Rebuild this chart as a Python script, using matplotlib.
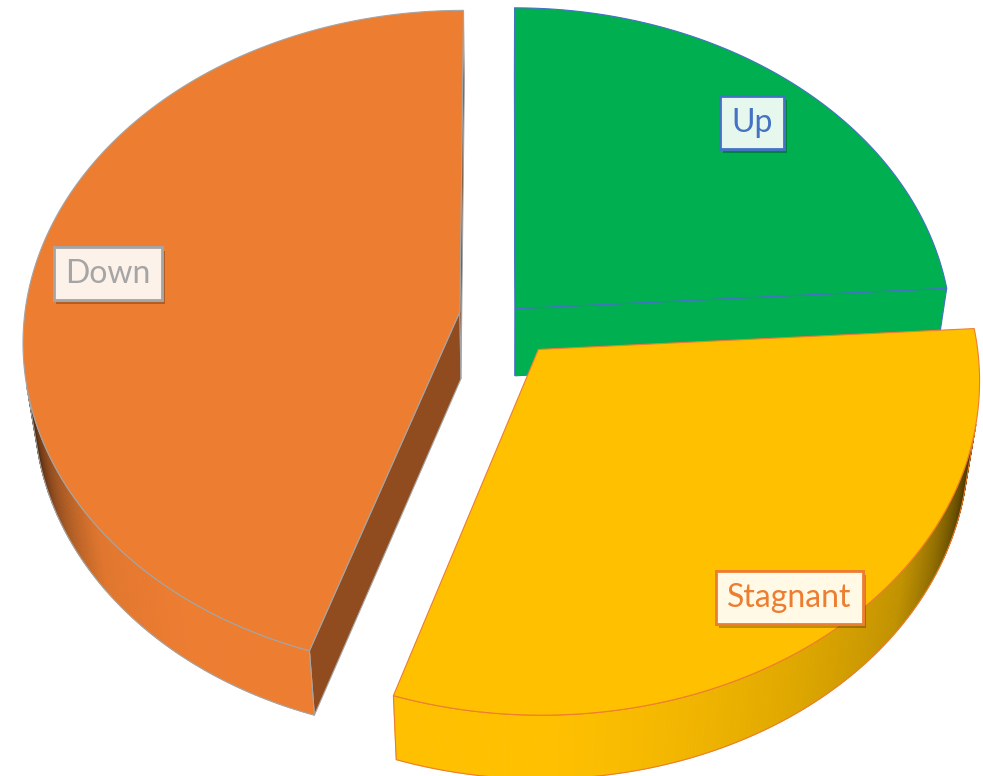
import numpy as np
import matplotlib.pyplot as plt
from matplotlib.patches import Polygon
from matplotlib.colors import to_rgb
from matplotlib import patheffects as pe

# data
labels = ["Up", "Stagnant", "Down"]
values = [24, 31, 45]
colors = ["#00B050", "#FFC000", "#ED7D31"]
edge_colors = ["#4472C4", "#ED7D31", "#A5A5A5"]
explode = [0.035, 0.124, 0.105]
label_r = [0.84, 0.87, 0.83]

# camera / 3d settings
elev = np.radians(48.9)
s, c = np.sin(elev), np.cos(elev)
D = 7.6
F = 3310
CX, CY = 505, 317
THICK = 0.24
cam = np.array([0.0, -D * c, D * s])
light = np.array([-0.29, -0.96])
light = light / np.linalg.norm(light)


def project(u, v, w):
    z = D + v * c - w * s
    return CX + F * u / z, CY - F * (v * s + w * c) / z


def facing(n, p):
    d = cam - np.array([p[0], p[1], 0.0])
    return np.dot(np.array([n[0], n[1], 0.0]), d) / np.linalg.norm(d)


def shade(col, n, vis=1.0):
    k = min(1.0, 0.6 + 0.42 * float(np.dot(n, light)))
    k *= 0.3 + 0.7 * min(1.0, vis / 0.28) ** 0.7
    return tuple(np.clip(np.array(to_rgb(col)) * k, 0, 1))


fig = plt.figure(figsize=(9.83, 7.76), dpi=100)
ax = fig.add_axes([0, 0, 1, 1])
ax.set_xlim(0, 983)
ax.set_ylim(776, 0)
ax.axis("off")

total = float(sum(values))
bounds = np.concatenate([[0], np.cumsum(values)]) / total * 2 * np.pi
slices = []
for i in range(len(values)):
    t0, t1 = bounds[i], bounds[i + 1]
    tm = 0.5 * (t0 + t1)
    off = explode[i] * np.array([np.sin(tm), np.cos(tm)])
    slices.append((i, t0, t1, tm, off))

# back to front
slices.sort(key=lambda x: -x[4][1])

for i, t0, t1, tm, off in slices:
    col = colors[i]
    ec = edge_colors[i]
    th = np.linspace(t0, t1, 240)
    ou = off[0] + np.sin(th)
    ov = off[1] + np.cos(th)

    # cut faces
    for tt, n in [(t0, np.array([-np.cos(t0), np.sin(t0)])),
                  (t1, np.array([np.cos(t1), -np.sin(t1)]))]:
        if facing(n, off) > 0:
            pu, pv = off[0] + np.sin(tt), off[1] + np.cos(tt)
            pts = [project(off[0], off[1], 0), project(pu, pv, 0),
                   project(pu, pv, -THICK), project(off[0], off[1], -THICK)]
            ax.add_patch(Polygon(pts, closed=True, facecolor=shade(col, n),
                                 edgecolor=ec, linewidth=0.8, zorder=1))

    # outer wall
    vis = np.array([facing(np.array([np.sin(a), np.cos(a)]), (u, v))
                    for a, u, v in zip(th, ou, ov)])
    idx = np.where(vis > 0)[0]
    if len(idx) > 1:
        for k in idx[:-1]:
            if vis[k + 1] <= 0:
                continue
            a = 0.5 * (th[k] + th[k + 1])
            n = np.array([np.sin(a), np.cos(a)])
            pts = [project(ou[k], ov[k], 0), project(ou[k + 1], ov[k + 1], 0),
                   project(ou[k + 1], ov[k + 1], -THICK), project(ou[k], ov[k], -THICK)]
            fc = shade(col, n, 0.5 * (vis[k] + vis[k + 1]))
            ax.add_patch(Polygon(pts, closed=True, facecolor=fc, edgecolor=fc,
                                 linewidth=0.6, zorder=1))
        top = [project(ou[k], ov[k], 0) for k in idx]
        bot = [project(ou[k], ov[k], -THICK) for k in idx[::-1]]
        ax.add_patch(Polygon(top + bot, closed=True, facecolor="none",
                             edgecolor=ec, linewidth=0.8, zorder=1))

    # top face
    pts = [project(off[0], off[1], 0)] + [project(u, v, 0) for u, v in zip(ou, ov)]
    ax.add_patch(Polygon(pts, closed=True, facecolor=col, edgecolor=ec,
                         linewidth=0.8, zorder=1))

# data labels
for i in range(len(values)):
    t0, t1 = bounds[i], bounds[i + 1]
    tm = 0.5 * (t0 + t1)
    off = explode[i] * np.array([np.sin(tm), np.cos(tm)])
    lx, ly = project(off[0] + label_r[i] * np.sin(tm), off[1] + label_r[i] * np.cos(tm), 0)
    bg = tuple(0.9 * np.ones(3) + 0.1 * np.array(to_rgb(colors[i])))
    t = ax.text(lx, ly + 4, labels[i], ha="center", va="center", fontsize=23,
                family=["Lato", "DejaVu Sans"], color=edge_colors[i], zorder=5,
                bbox=dict(boxstyle="square,pad=0.36", facecolor=bg,
                          edgecolor=edge_colors[i], linewidth=2))
    t.get_bbox_patch().set_path_effects(
        [pe.withSimplePatchShadow(offset=(2, -3), shadow_rgbFace="black", alpha=0.25),
         pe.Normal()])

fig.savefig("out.png", dpi=100)
